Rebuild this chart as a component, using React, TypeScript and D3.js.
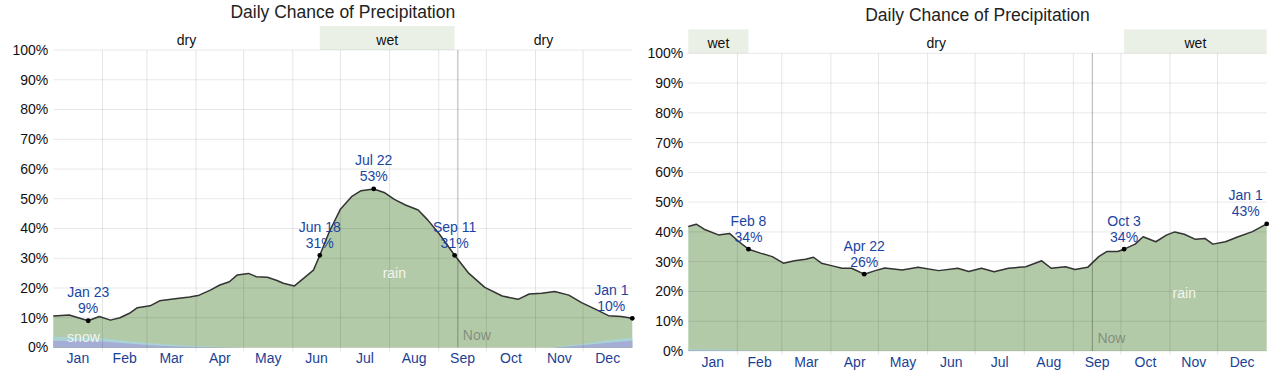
import React from "react";
import * as d3 from "d3";

// ---------- data ----------
const MONTHS = ["Jan", "Feb", "Mar", "Apr", "May", "Jun", "Jul", "Aug", "Sep", "Oct", "Nov", "Dec"];
const MONTH_STARTS = [0, 31, 59, 90, 120, 151, 181, 212, 243, 273, 304, 334, 365];
const Y_TICKS = [0, 10, 20, 30, 40, 50, 60, 70, 80, 90, 100];

// Left chart: daily chance of precipitation (%), by day of year
const leftDays = [0, 10, 22, 29, 36, 42, 48, 53, 61, 67, 78, 86, 92, 99, 105, 111, 116, 123, 128, 135, 141, 145, 152, 157, 164, 168, 174, 181, 188, 194, 202, 209, 215, 222, 230, 236, 243, 253, 262, 272, 283, 293, 300, 308, 316, 325, 333, 342, 350, 358, 365];
const leftValues = [10.6, 10.9, 9, 10.4, 9.2, 10, 11.5, 13.4, 14, 15.7, 16.5, 17, 17.6, 19.3, 21, 22.1, 24.4, 24.9, 23.8, 23.6, 22.5, 21.6, 20.7, 22.9, 26, 31, 38.9, 46.5, 50.7, 52.7, 53.3, 52, 49.8, 47.9, 46.2, 42.9, 38.4, 31, 24.9, 20.2, 17.3, 16.2, 18, 18.2, 18.8, 17.6, 15.1, 12.8, 10.7, 10.4, 9.8];
const leftPrecipDays = [0, 20, 30, 45, 60, 75, 90, 105, 120, 315, 320, 335, 350, 365];
const leftSnow = [2.3, 2.2, 2.0, 1.4, 0.8, 0.4, 0.2, 0.05, 0, 0, 0.2, 0.8, 1.6, 2.3];
const leftMixed = [1.3, 1.2, 1.2, 0.9, 0.7, 0.5, 0.3, 0.15, 0, 0, 0.2, 0.5, 0.9, 1.0];
const leftWet = [[168, 253]];
const leftMarks = [22, 168, 202, 253, 365];

// Right chart
const rightDays = [0, 5, 10, 19, 26, 32, 38, 46, 53, 60, 67, 74, 79, 84, 91, 97, 103, 111, 118, 124, 135, 145, 158, 170, 177, 185, 193, 202, 213, 223, 229, 238, 244, 252, 259, 264, 271, 275, 282, 287, 295, 302, 307, 313, 320, 326, 331, 339, 347, 356, 365];
const rightValues = [41.8, 42.6, 40.9, 39, 39.5, 36.7, 34.2, 32.8, 31.7, 29.5, 30.3, 30.8, 31.5, 29.5, 28.6, 27.8, 27.8, 25.8, 27, 27.9, 27.2, 28.1, 27, 27.8, 26.7, 27.8, 26.6, 27.8, 28.3, 30.3, 27.8, 28.3, 27.4, 28.1, 31.7, 33.4, 33.4, 34.2, 35.9, 38.4, 36.7, 39, 40, 39.2, 37.5, 37.8, 35.9, 36.7, 38.4, 40.1, 42.7];
const rightPrecipDays = [0, 20, 45, 365];
const rightSnow = [0.2, 0.1, 0, 0];
const rightMixed = [0.4, 0.3, 0, 0];
const rightWet = [[0, 38], [275, 365]];
const rightMarks = [38, 111, 275, 365];

const NOW_DAY = 255;
const FONT = "'Liberation Sans', Arial, Helvetica, sans-serif";
const BLUE = "#1a45a3";
const MONTH_BLUE = "#1b3f94";

const fmtDate = d3.timeFormat("%b %-d");
const dayDate = (d: number) => new Date(2023, 0, 1 + d);

function valueAt(days: number[], vals: number[], d: number) {
  const i = days.indexOf(d);
  return vals[i];
}

type ChartProps = {
  left: number; right: number; top: number; bottom: number;
  days: number[]; values: number[];
  pDays: number[]; snow: number[]; mixed: number[];
  wet: number[][]; marks: number[];
  rainDay: number; snowDay: number | null;
};

function Chart(p: ChartProps) {
  const x = d3.scaleLinear().domain([0, 365]).range([p.left, p.right]);
  const y = d3.scaleLinear().domain([0, 100]).range([p.bottom, p.top]);
  const pts = p.days.map((d, i) => [d, p.values[i]] as [number, number]);
  const area = d3.area<[number, number]>().x(d => x(d[0])).y0(y(0)).y1(d => y(d[1]));
  const line = d3.line<[number, number]>().x(d => x(d[0])).y(d => y(d[1]));
  const mixedPts = p.pDays.map((d, i) => [d, p.snow[i] + p.mixed[i]] as [number, number]);
  const snowPts = p.pDays.map((d, i) => [d, p.snow[i]] as [number, number]);

  const bands: { a: number; b: number; wet: boolean }[] = [];
  let cur = 0;
  p.wet.forEach(([a, b]) => {
    if (a > cur) bands.push({ a: cur, b: a, wet: false });
    bands.push({ a, b, wet: true });
    cur = b;
  });
  if (cur < 365) bands.push({ a: cur, b: 365, wet: false });

  const bandTop = p.top - 24;
  const midX = (p.left + p.right) / 2;
  const rainVal = valueAt(p.days, p.values, p.rainDay);

  return (
    <g>
      <text x={midX} y={p.top - 32} textAnchor="middle" fontSize={17.5} fill="#222" fontFamily={FONT}>
        Daily Chance of Precipitation
      </text>
      {bands.map((b, i) => (
        <g key={"b" + i}>
          {b.wet && <rect x={x(b.a)} y={bandTop} width={x(b.b) - x(b.a)} height={p.top - bandTop} fill="#ebf0e7" />}
          <text x={(x(b.a) + x(b.b)) / 2} y={p.top - 5} textAnchor="middle" fontSize={14} fill="#111" fontFamily={FONT}>
            {b.wet ? "wet" : "dry"}
          </text>
        </g>
      ))}
      <path d={area(pts) || ""} fill="#b3caa8" />
      <path d={area(mixedPts) || ""} fill="#a9d2d4" />
      <path d={area(snowPts) || ""} fill="#a5acd5" />
      {Y_TICKS.map(t => (
        <line key={"h" + t} x1={p.left} x2={p.right} y1={y(t)} y2={y(t)} stroke="rgba(0,0,0,0.09)" strokeWidth={1} />
      ))}
      {MONTH_STARTS.slice(1, 12).map(m => (
        <line key={"v" + m} x1={x(m)} x2={x(m)} y1={p.top} y2={p.bottom + 4} stroke="rgba(0,0,0,0.1)" strokeWidth={1} />
      ))}
      <line x1={x(NOW_DAY)} x2={x(NOW_DAY)} y1={p.top} y2={p.bottom} stroke="rgba(0,0,0,0.25)" strokeWidth={1.2} />
      <text x={x(NOW_DAY) + 5} y={p.bottom - 8} fontSize={14} fill="rgba(90,90,90,0.55)" fontFamily={FONT}>Now</text>
      <text x={x(p.rainDay)} y={y(rainVal / 2)} dy="0.35em" textAnchor="middle" fontSize={14} fill="rgba(255,255,255,0.85)" fontFamily={FONT}>rain</text>
      {p.snowDay !== null && (
        <text x={x(p.snowDay)} y={y(3.6)} dy="0.35em" textAnchor="middle" fontSize={14} fill="rgba(255,255,255,0.8)" fontFamily={FONT}>snow</text>
      )}
      <path d={line(pts) || ""} fill="none" stroke="#333" strokeWidth={1.5} strokeLinejoin="round" />
      {p.marks.map(d => {
        const v = valueAt(p.days, p.values, d);
        const px = x(d), py = y(v);
        const lx = Math.min(px, p.right - 21);
        return (
          <g key={"m" + d}>
            <circle cx={px} cy={py} r={2.4} fill="#000" />
            <text x={lx} y={py - 23.5} textAnchor="middle" fontSize={14} fill={BLUE} fontFamily={FONT}>{fmtDate(dayDate(d))}</text>
            <text x={lx} y={py - 7.5} textAnchor="middle" fontSize={14} fill={BLUE} fontFamily={FONT}>{Math.round(v) + "%"}</text>
          </g>
        );
      })}
      {Y_TICKS.map(t => (
        <text key={"yl" + t} x={p.left - 5} y={y(t)} dy="0.35em" textAnchor="end" fontSize={14} fill="#111" fontFamily={FONT}>{t + "%"}</text>
      ))}
      {MONTHS.map((m, i) => (
        <text key={"ml" + m} x={x((MONTH_STARTS[i] + MONTH_STARTS[i + 1]) / 2)} y={p.bottom + 15.5} textAnchor="middle" fontSize={14} fill={MONTH_BLUE} fontFamily={FONT}>{m}</text>
      ))}
    </g>
  );
}

export default function App() {
  return (
    <div style={{ position: "absolute", left: 0, top: 0 }}>
      <svg width={1280} height={373} style={{ display: "block", background: "#fff" }}>
        <Chart left={53.3} right={632.3} top={50} bottom={347.5}
          days={leftDays} values={leftValues} pDays={leftPrecipDays} snow={leftSnow} mixed={leftMixed}
          wet={leftWet} marks={leftMarks} rainDay={215} snowDay={19} />
        <Chart left={688.3} right={1266.7} top={53.3} bottom={351}
          days={rightDays} values={rightValues} pDays={rightPrecipDays} snow={rightSnow} mixed={rightMixed}
          wet={rightWet} marks={rightMarks} rainDay={313} snowDay={null} />
      </svg>
    </div>
  );
}
